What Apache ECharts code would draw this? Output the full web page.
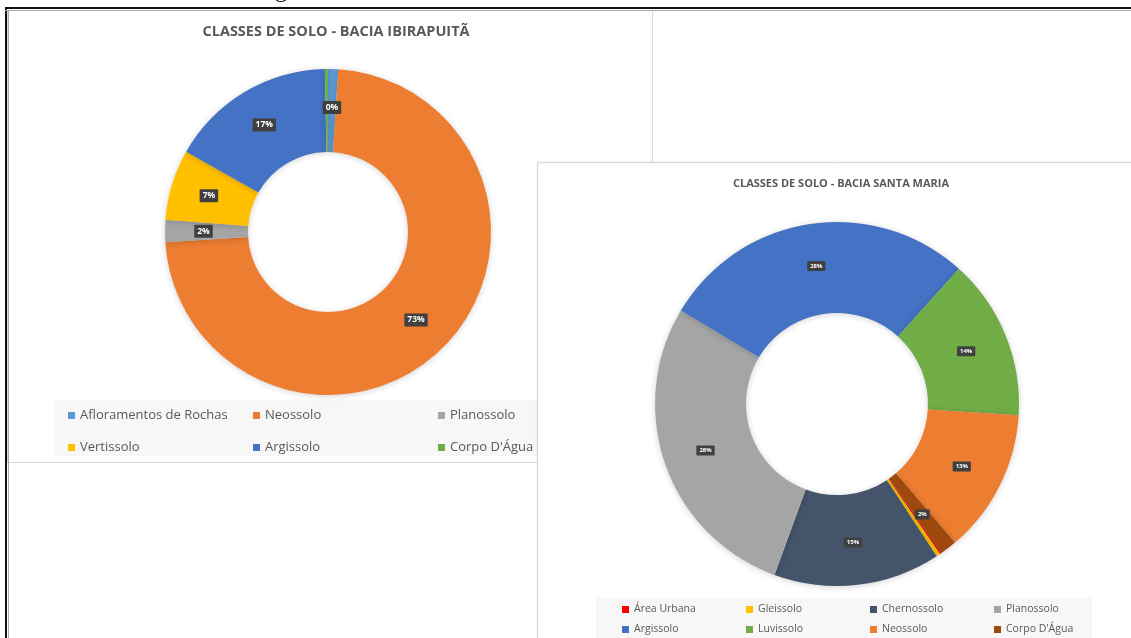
<!DOCTYPE html>
<html>
<head>
<meta charset="utf-8">
<script src="https://cdn.jsdelivr.net/npm/echarts@6/dist/echarts.min.js"></script>
<style>html,body{margin:0;padding:0;background:#fff}#c{width:1131px;height:638px}</style>
</head>
<body>
<div id="c"></div>
<script>
// Bacia Ibirapuitã
const ibiCategories = ['Afloramentos de Rochas', 'Neossolo', 'Planossolo', 'Vertissolo', 'Argissolo', "Corpo D'Água"];
const ibiValues = [1.0, 73.0, 2.2, 7.0, 16.5, 0.3];
const ibiLabels = ['0%', '73%', '2%', '7%', '17%', '0%'];
const ibiColors = ['#5B9BD5', '#ED7D31', '#A5A5A5', '#FFC000', '#4472C4', '#70AD47'];

// Bacia Santa Maria
const smCategories = ['Área Urbana', 'Gleissolo', 'Chernossolo', 'Planossolo', 'Argissolo', 'Luvissolo', 'Neossolo', "Corpo D'Água"];
const smValues = [0.15, 0.35, 14.8, 28.0, 28.1, 14.3, 12.8, 1.5];
const smLabels = ['0%', '0%', '15%', '28%', '28%', '14%', '13%', '2%'];
const smColors = ['#FF0000', '#FFC000', '#44546A', '#A5A5A5', '#4472C4', '#70AD47', '#ED7D31', '#9E480E'];

const chart = echarts.init(document.getElementById('c'), null, {renderer: 'canvas'});

function labelStyle(size) {
  return {
    show: true, position: 'inside',
    color: '#fff', fontSize: size, fontWeight: 'bold', fontFamily: 'Open Sans',
    backgroundColor: '#404040', padding: [2, 3], borderRadius: 1
  };
}

chart.setOption({
  animation: false,
  backgroundColor: '#fff',
  graphic: {
    elements: [
      {type: 'text', z: 0, left: 255, top: -21, style: {text: 'Figura 4 - Gráfico das classes de solo encontradas na área de estudo', font: '24px "Liberation Serif"', fill: '#000'}},
      {type: 'rect', z: 0, shape: {x: 7.5, y: 10.5, width: 645, height: 452}, style: {fill: '#fff', stroke: '#d9d9d9', lineWidth: 1}},
      {type: 'rect', z: 0, shape: {x: 55, y: 400, width: 485, height: 56}, style: {fill: '#f7f7f7'}},
      {type: 'rect', z: 1, shape: {x: 537.5, y: 162.5, width: 600, height: 480}, style: {fill: '#fff', stroke: '#d9d9d9', lineWidth: 1, shadowBlur: 3, shadowColor: 'rgba(0,0,0,0.12)'}},
      {type: 'rect', z: 1, shape: {x: 596, y: 598, width: 496, height: 42}, style: {fill: '#f7f7f7'}},
      {type: 'line', z: 5, shape: {x1: 5, y1: 8, x2: 1131, y2: 8}, style: {stroke: '#111', lineWidth: 2}},
      {type: 'line', z: 5, shape: {x1: 6, y1: 8, x2: 6, y2: 638}, style: {stroke: '#111', lineWidth: 2}},
      {type: 'line', z: 5, shape: {x1: 5, y1: 10.5, x2: 1131, y2: 10.5}, style: {stroke: '#aaa', lineWidth: 1}},
      {type: 'line', z: 5, shape: {x1: 8.5, y1: 10, x2: 8.5, y2: 638}, style: {stroke: '#aaa', lineWidth: 1}}
    ]
  },
  title: [
    {text: 'CLASSES DE SOLO - BACIA IBIRAPUITÃ', left: 331, top: 19, textAlign: 'center',
     textStyle: {fontSize: 14.5, fontWeight: 'bold', color: '#595959', fontFamily: 'Open Sans'}},
    {text: 'CLASSES DE SOLO - BACIA SANTA MARIA', left: 836, top: 173, textAlign: 'center',
     textStyle: {fontSize: 11, fontWeight: 'bold', color: '#595959', fontFamily: 'Open Sans'}}
  ],
  legend: [
    {
      left: 63, top: 401, width: 545, orient: 'horizontal', itemGap: 13,
      itemWidth: 7, itemHeight: 7, icon: 'rect',
      textStyle: {fontSize: 13, color: '#595959', fontFamily: 'Open Sans', width: 160, lineHeight: 19},
      data: ibiCategories.map((n, i) => ({name: n, itemStyle: {color: ibiColors[i]}}))
    },
    {
      left: 617, top: 598, width: 500, orient: 'horizontal', itemGap: 7,
      itemWidth: 7, itemHeight: 7, icon: 'rect',
      textStyle: {fontSize: 10.5, color: '#595959', fontFamily: 'Open Sans', width: 105, lineHeight: 13},
      data: smCategories.map((n, i) => ({name: n, itemStyle: {color: smColors[i]}}))
    }
  ],
  series: [
    {
      name: 'Ibirapuitã', type: 'pie', center: [328, 232], radius: [80, 163],
      startAngle: 90, clockwise: true, avoidLabelOverlap: false,
      itemStyle: {borderWidth: 0, shadowBlur: 6, shadowColor: 'rgba(0,0,0,0.18)', shadowOffsetY: 1},
      label: Object.assign(labelStyle(8.5), {formatter: p => ibiLabels[p.dataIndex]}),
      labelLine: {show: false},
      emphasis: {disabled: true},
      data: ibiCategories.map((n, i) => ({name: n, value: ibiValues[i], itemStyle: {color: ibiColors[i]}}))
    },
    {
      name: 'Santa Maria', type: 'pie', center: [837, 404], radius: [91, 182],
      startAngle: -55, clockwise: true, avoidLabelOverlap: false,
      itemStyle: {borderWidth: 0, shadowBlur: 6, shadowColor: 'rgba(0,0,0,0.18)', shadowOffsetY: 1},
      label: Object.assign(labelStyle(6), {formatter: p => smLabels[p.dataIndex]}),
      labelLine: {show: false},
      emphasis: {disabled: true},
      data: smCategories.map((n, i) => ({name: n, value: smValues[i], itemStyle: {color: smColors[i]}}))
    }
  ]
});
</script>
</body>
</html>
